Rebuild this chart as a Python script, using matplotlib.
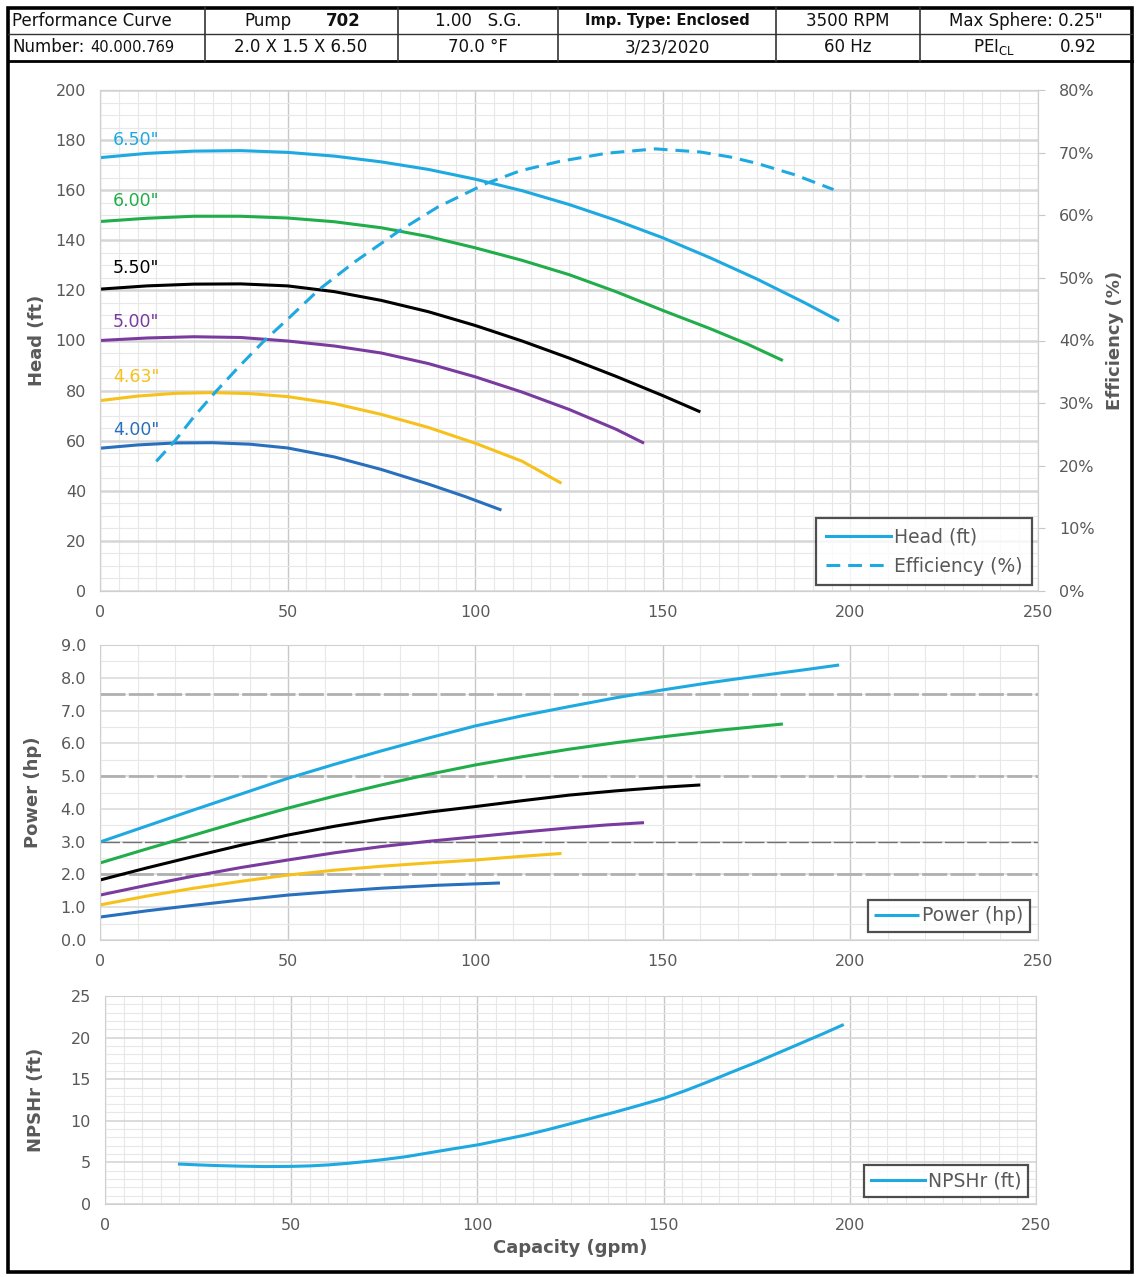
import matplotlib
matplotlib.use("Agg")
import matplotlib.pyplot as plt
from matplotlib.patches import Rectangle
from matplotlib.lines import Line2D
from matplotlib.ticker import MultipleLocator, FuncFormatter

plt.rcParams['font.family'] = ['DejaVu Sans']

# impeller trims and colours
trims = ['6.50"', '6.00"', '5.50"', '5.00"', '4.63"', '4.00"']
trim_colors = ['#1ea9e1', '#20ad4a', '#000000', '#7a3b9e', '#f6c11b', '#2870bd']

# head curves (gpm, ft)
q_650 = [0, 12.5, 25, 37.5, 50, 62.5, 75, 87.5, 100, 112.5, 125, 137.5, 150, 162.5, 175, 187.5, 197]
h_650 = [173.0, 174.7, 175.6, 175.8, 175.1, 173.6, 171.3, 168.3, 164.4, 159.8, 154.3, 148.0,
         141.0, 133.1, 124.6, 115.3, 107.8]
q_600 = [0, 12.5, 25, 37.5, 50, 62.5, 75, 87.5, 100, 112.5, 125, 137.5, 150, 162.5, 172.5, 182]
h_600 = [147.5, 148.8, 149.6, 149.6, 148.9, 147.4, 145.0, 141.5, 137.0, 132.0, 126.3, 119.5,
         112.0, 104.8, 98.6, 92.0]
q_550 = [0, 12.5, 25, 37.5, 50, 62.5, 75, 87.5, 100, 112.5, 125, 137.5, 150, 160]
h_550 = [120.5, 121.8, 122.5, 122.6, 121.8, 119.5, 116.0, 111.5, 106.0, 99.8, 93.0, 85.7, 78.0, 71.5]
q_500 = [0, 12.5, 25, 37.5, 50, 62.5, 75, 87.5, 100, 112.5, 125, 137.5, 145]
h_500 = [100.0, 101.0, 101.5, 101.2, 99.8, 97.8, 95.0, 90.8, 85.5, 79.4, 72.5, 64.6, 59.0]
q_463 = [0, 10, 20, 30, 40, 50, 62.5, 75, 87.5, 100, 112.5, 123]
h_463 = [76.0, 77.8, 78.9, 79.2, 78.8, 77.6, 74.8, 70.5, 65.3, 59.0, 51.8, 43.0]
q_400 = [0, 10, 20, 30, 40, 50, 62.5, 75, 87.5, 97.5, 107]
h_400 = [57.0, 58.3, 59.1, 59.2, 58.6, 57.1, 53.5, 48.5, 42.7, 37.6, 32.3]

# efficiency of the 6.50" impeller (%)
q_eff = [15, 20, 25, 30.5, 37, 43.5, 50, 58.5, 68, 79.5, 90, 103, 112, 122.5, 135, 148,
         160, 168, 175, 185, 195.5]
eff = [20.7, 24.0, 27.8, 31.6, 35.8, 39.8, 43.4, 48.2, 52.6, 57.4, 61.3, 65.1, 67.1, 68.6,
       69.9, 70.6, 70.1, 69.3, 68.3, 66.5, 64.1]

# power curves (gpm, hp)
pq_650 = [0, 12.5, 25, 37.5, 50, 62.5, 75, 87.5, 100, 112.5, 125, 137.5, 150, 162.5, 175, 187.5, 197]
p_650 = [2.99, 3.48, 3.97, 4.45, 4.93, 5.36, 5.77, 6.16, 6.53, 6.84, 7.12, 7.39, 7.63, 7.85,
         8.05, 8.24, 8.39]
pq_600 = [0, 12.5, 25, 37.5, 50, 62.5, 75, 87.5, 100, 112.5, 125, 137.5, 150, 165, 182]
p_600 = [2.35, 2.78, 3.2, 3.62, 4.02, 4.39, 4.73, 5.05, 5.34, 5.59, 5.82, 6.02, 6.2, 6.4, 6.59]
pq_550 = [0, 12.5, 25, 37.5, 50, 62.5, 75, 87.5, 100, 112.5, 125, 137.5, 150, 160]
p_550 = [1.83, 2.2, 2.55, 2.89, 3.2, 3.47, 3.7, 3.9, 4.07, 4.25, 4.42, 4.55, 4.66, 4.73]
pq_500 = [0, 12.5, 25, 37.5, 50, 62.5, 75, 87.5, 100, 112.5, 125, 135, 145]
p_500 = [1.37, 1.67, 1.95, 2.21, 2.44, 2.66, 2.85, 3.01, 3.15, 3.29, 3.42, 3.51, 3.58]
pq_463 = [0, 12.5, 25, 37.5, 50, 62.5, 75, 87.5, 100, 112, 123]
p_463 = [1.07, 1.34, 1.58, 1.79, 1.98, 2.13, 2.25, 2.35, 2.44, 2.55, 2.64]
pq_400 = [0, 12.5, 25, 37.5, 50, 62.5, 75, 90, 106.6]
p_400 = [0.7, 0.89, 1.06, 1.22, 1.37, 1.48, 1.58, 1.67, 1.74]

# standard motor sizes shown on power chart (hp)
motor_hp = [2.0, 3.0, 5.0, 7.5]

# NPSH required
q_npsh = [20, 25, 30, 36, 43, 50, 55, 60, 65, 70, 75, 81, 87, 93, 100, 106, 113, 119, 125,
          131, 137, 143, 150, 156, 162, 168, 175, 181, 187, 193, 198]
npsh = [4.8, 4.7, 4.62, 4.55, 4.5, 4.52, 4.58, 4.7, 4.88, 5.1, 5.35, 5.7, 6.15, 6.6, 7.1,
        7.65, 8.3, 8.95, 9.65, 10.35, 11.05, 11.8, 12.7, 13.65, 14.7, 15.8, 17.05, 18.2,
        19.35, 20.5, 21.5]

head_q = [q_650, q_600, q_550, q_500, q_463, q_400]
head_h = [h_650, h_600, h_550, h_500, h_463, h_400]
pow_q = [pq_650, pq_600, pq_550, pq_500, pq_463, pq_400]
pow_p = [p_650, p_600, p_550, p_500, p_463, p_400]

W, H = 1140, 1277
TXT = '#595959'
LW = 2.2


def fx(px):
    return px / W


def fy(py):
    return 1 - py / H


def style_axes(ax, xminor, yminor):
    ax.set_xlim(0, 250)
    ax.xaxis.set_major_locator(MultipleLocator(50))
    ax.xaxis.set_minor_locator(MultipleLocator(xminor))
    ax.yaxis.set_minor_locator(MultipleLocator(yminor))
    ax.grid(True, which='major', axis='x', color='#c8c8c8', lw=1.0)
    ax.grid(True, which='minor', color='#e8e8e8', lw=0.8)
    ax.set_axisbelow(True)
    for s in ax.spines.values():
        s.set_color('#d0d0d0')
    ax.tick_params(which='both', length=0, colors=TXT, labelsize=11.5, pad=10)


def add_legend(ax, handles, labels, anchor, hlen, pad, spacing=0.5):
    leg = ax.legend(handles, labels, loc='lower right', bbox_to_anchor=anchor,
                    borderaxespad=0, fontsize=13.5, handlelength=hlen,
                    handletextpad=0.15, fancybox=False, edgecolor='#222222',
                    borderpad=pad, labelspacing=spacing, labelcolor=TXT)
    leg.get_frame().set_linewidth(1.6)
    return leg


fig = plt.figure(figsize=(W / 100, H / 100), dpi=100)

# ---------------- head / efficiency ----------------
ax1 = fig.add_axes([fx(100), fy(591), fx(938), 501 / H])
style_axes(ax1, 5, 5)
ax1.set_ylim(0, 200)
ax1.yaxis.set_major_locator(MultipleLocator(20))
ax1.grid(True, which='major', axis='y', color='#d6d6d6', lw=1.8)
for q, h, c in zip(head_q, head_h, trim_colors):
    ax1.plot(q, h, color=c, lw=LW, solid_capstyle='butt', solid_joinstyle='round')
label_y = [180, 155.7, 129, 107.4, 85.4, 64.3]
for t, c, y in zip(trims, trim_colors, label_y):
    ax1.text(3.5, y, t, color=c, fontsize=12.5, va='center', ha='left')
ax1.set_ylabel('Head (ft)', color=TXT, fontsize=13, fontweight='bold')
ax1.yaxis.set_label_coords(-0.058, 0.5)

ax1r = ax1.twinx()
ax1r.set_ylim(0, 80)
ax1r.yaxis.set_major_locator(MultipleLocator(10))
ax1r.yaxis.set_major_formatter(FuncFormatter(lambda v, p: f'{v:.0f}%'))
ax1r.tick_params(length=5, color='#c8c8c8', colors=TXT, labelsize=11.5, pad=10)
for s in ax1r.spines.values():
    s.set_color('#d0d0d0')
eff_line, = ax1r.plot(q_eff, eff, color=trim_colors[0], lw=LW, ls=(0, (4.5, 2.6)))
ax1r.set_ylabel('Efficiency (%)', color=TXT, fontsize=13, fontweight='bold')
ax1r.yaxis.set_label_coords(1.072, 0.5)
add_legend(ax1r, [Line2D([], [], color=trim_colors[0], lw=LW), eff_line],
           ['Head (ft)', 'Efficiency (%)'], (0.9936, 0.012), 3.5, 0.5, 0.55)

# ---------------- power ----------------
ax2 = fig.add_axes([fx(100), fy(940), fx(938), 295 / H])
style_axes(ax2, 10, 0.5)
ax2.set_ylim(0, 9)
ax2.yaxis.set_major_locator(MultipleLocator(1))
ax2.yaxis.set_major_formatter(FuncFormatter(lambda v, p: f'{v:.1f}'))
ax2.grid(True, which='major', axis='y', color='#dcdcdc', lw=1.2)
for m in motor_hp:
    if m == 3.0:
        ax2.axhline(m, color='#707070', lw=1.0, ls=(0, (14, 2)), zorder=1)
    else:
        ax2.axhline(m, color='#b0b0b0', lw=2.0, ls=(0, (9, 1.2)), zorder=1)
pow_lines = []
for q, p, c in zip(pow_q, pow_p, trim_colors):
    ln, = ax2.plot(q, p, color=c, lw=LW, solid_capstyle='butt', solid_joinstyle='round')
    pow_lines.append(ln)
ax2.set_ylabel('Power (hp)', color=TXT, fontsize=13, fontweight='bold')
ax2.yaxis.set_label_coords(-0.062, 0.5)
add_legend(ax2, [pow_lines[0]], ['Power (hp)'], (0.9915, 0.027), 2.4, 0.35)

# ---------------- NPSHr ----------------
ax3 = fig.add_axes([fx(105), fy(1204), fx(931), 208 / H])
style_axes(ax3, 5, 1)
ax3.set_ylim(0, 25)
ax3.yaxis.set_major_locator(MultipleLocator(5))
ax3.grid(True, which='major', axis='y', color='#d6d6d6', lw=1.2)
npsh_line, = ax3.plot(q_npsh, npsh, color=trim_colors[0], lw=LW)
ax3.set_ylabel('NPSHr (ft)', color=TXT, fontsize=13, fontweight='bold')
ax3.yaxis.set_label_coords(-0.064, 0.5)
ax3.set_xlabel('Capacity (gpm)', color=TXT, fontsize=13, fontweight='bold')
ax3.xaxis.set_label_coords(0.4995, -0.17)
add_legend(ax3, [npsh_line], ['NPSHr (ft)'], (0.9914, 0.034), 2.9, 0.35)

# ---------------- header table and frame ----------------
fig.add_artist(Rectangle((fx(8), fy(1272)), fx(1124), (1272 - 8) / H,
                         transform=fig.transFigure, fill=False, ec='black', lw=2.6))
fig.add_artist(Line2D([fx(8), fx(1132)], [fy(61), fy(61)], transform=fig.transFigure,
                      color='black', lw=2.0))
fig.add_artist(Line2D([fx(8), fx(1132)], [fy(34), fy(34)], transform=fig.transFigure,
                      color='#333333', lw=1.0))
for cx in [205, 398, 558, 776, 920]:
    fig.add_artist(Line2D([fx(cx), fx(cx)], [fy(8), fy(61)], transform=fig.transFigure,
                          color='#333333', lw=1.2))

r1, r2 = fy(21), fy(47)
hdr = dict(fontsize=12, color='#111111', va='center')
fig.text(fx(12), r1, 'Performance Curve', ha='left', **hdr)
fig.text(fx(12), r2, 'Number:', ha='left', **hdr)
fig.text(fx(90), r2, '40.000.769', ha='left', fontsize=10.5, color='#111111', va='center')
fig.text(fx(292), r1, 'Pump', ha='right', **hdr)
fig.text(fx(326), r1, '702', ha='left', fontweight='bold', **hdr)
fig.text(fx(301), r2, '2.0 X 1.5 X 6.50', ha='center', **hdr)
fig.text(fx(478), r1, '1.00   S.G.', ha='center', **hdr)
fig.text(fx(478), r2, '70.0 °F', ha='center', **hdr)
fig.text(fx(667), r1, 'Imp. Type: Enclosed', ha='center', fontsize=10.5,
         fontweight='bold', color='#111111', va='center')
fig.text(fx(667), r2, '3/23/2020', ha='center', **hdr)
fig.text(fx(848), r1, '3500 RPM', ha='center', **hdr)
fig.text(fx(848), r2, '60 Hz', ha='center', **hdr)
fig.text(fx(1026), r1, 'Max Sphere: 0.25"', ha='center', **hdr)
fig.text(fx(994), r2, r'PEI$_{\mathrm{CL}}$', ha='center', **hdr)
fig.text(fx(1078), r2, '0.92', ha='center', **hdr)

fig.savefig('out.png', dpi=100)
